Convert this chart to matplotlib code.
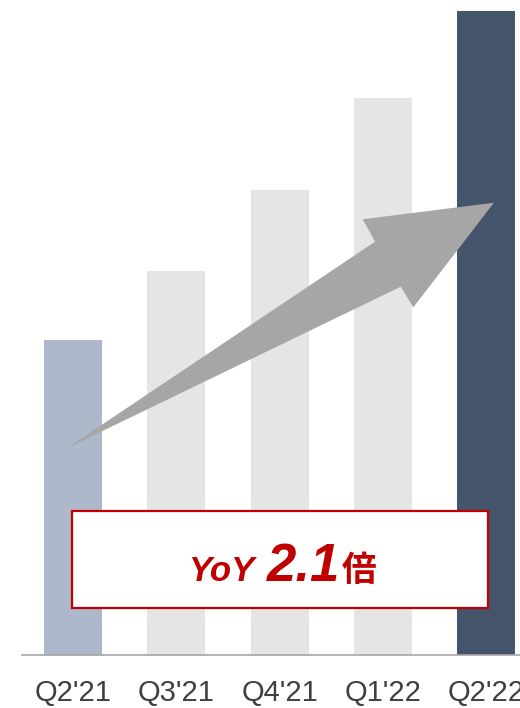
import matplotlib
matplotlib.use("Agg")
import matplotlib.pyplot as plt
from matplotlib.patches import Polygon, Rectangle

quarters = ["Q2'21", "Q3'21", "Q4'21", "Q1'22", "Q2'22"]
values = [315, 384, 465, 557, 644]
bar_colors = ["#adb9ca", "#e5e5e5", "#e5e5e5", "#e5e5e5", "#44546a"]
yoy_label = "YoY"
yoy_value = "2.1"
yoy_unit = "倍"

fig = plt.figure(figsize=(5.2, 7.08), dpi=100)
ax = fig.add_axes([22 / 520, 53 / 708, 498 / 520, 655 / 708])

x = list(range(len(quarters)))
ax.bar(x, values, width=0.562, color=bar_colors, zorder=1)

ax.set_xlim(-0.494, 4.329)
ax.set_ylim(0, 655)
ax.set_xticks(x)
ax.set_xticklabels(quarters, fontsize=21, color="#404040", family="Liberation Sans")
ax.tick_params(axis="x", length=0, pad=17)
ax.set_yticks([])
for side in ["left", "right", "top"]:
    ax.spines[side].set_visible(False)
ax.spines["bottom"].set_color("#a6a6a6")
ax.spines["bottom"].set_linewidth(1.2)

# growth arrow
arrow = Polygon([(-0.061, 206.7), (2.925, 413.3), (2.806, 435.7), (4.077, 452.3),
                 (3.296, 347.7), (3.174, 368.3)],
                closed=True, facecolor="#a6a6a6", edgecolor="none", zorder=3)
ax.add_patch(arrow)

# YoY box
box = Rectangle((-0.01, 47), 4.03, 97, facecolor="white", edgecolor="#c00000",
                linewidth=1.6, zorder=4)
ax.add_patch(box)
ax.text(1.11, 74, yoy_label, fontsize=25, fontweight="bold", style="italic",
        color="#c00000", family="Liberation Sans", zorder=5, va="baseline")
ax.text(1.879, 74, yoy_value, fontsize=38, fontweight="bold", style="italic",
        color="#c00000", family="Liberation Sans", zorder=5, va="baseline")
ax.text(2.605, 74, yoy_unit, fontsize=25, fontweight="bold",
        color="#c00000", family="Noto Sans CJK JP", zorder=5, va="baseline")

fig.savefig("out.png", dpi=100)
